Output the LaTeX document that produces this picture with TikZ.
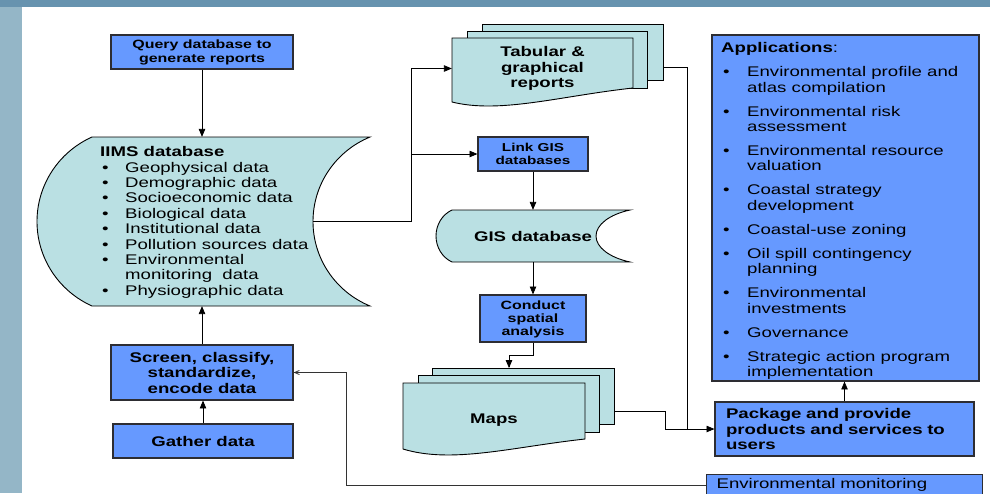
\documentclass[tikz,border=0pt]{standalone}
\usepackage{fontspec}
\setmainfont[FakeStretch=1.33]{Liberation Sans}
\usetikzlibrary{arrows,positioning,calc}

\definecolor{procblue}{RGB}{102,153,255}
\definecolor{datacyan}{RGB}{186,224,227}
\definecolor{slidegray}{RGB}{148,182,199}
\definecolor{slidetop}{RGB}{103,147,175}
\definecolor{inkgray}{RGB}{45,45,50}

\newcommand{\bul}[1][25pt]{\makebox[#1][l]{\hspace{2pt}\textbullet}}

\tikzset{
  procbox/.style={draw=inkgray,line width=1.2pt,fill=procblue,inner sep=0pt,
    align=center,font=\bfseries\fontsize{14}{15.5}\selectfont},
  datashape/.style={draw=black,line width=0.9pt,fill=datacyan},
  datatext/.style={inner sep=0pt,align=center,font=\bfseries\fontsize{14}{15.5}\selectfont},
  listtext/.style={inner sep=0pt,anchor=base west,font=\fontsize{14}{15.4}\selectfont},
  flow/.style={draw=black,line width=0.8pt,-triangle 45},
  wire/.style={draw=black,line width=0.8pt},
  backflow/.style={draw=black!80,line width=0.8pt,-angle 45}
}

\begin{document}
\begin{tikzpicture}[x=1pt,y=-1pt]
  % slide background
  \clip (0,0) rectangle (990,493);
  \fill[slidegray] (0,0) rectangle (990,493);
  \fill[slidetop] (0,0) rectangle (990,7);
  \fill[white] (22,7) rectangle (990,493);

  % IIMS database (stored data shape)
  \filldraw[datashape] (92,137) -- (370,137) .. controls (336,151) and (313,184) .. (313,221.5)
    .. controls (313,259) and (336,292) .. (370,306) -- (92,306)
    .. controls (58.6,291) and (37,258) .. (37,221.5) .. controls (37,185) and (58.6,152) .. (92,137) -- cycle;
  \node[minimum width=278,minimum height=169,inner sep=0pt] (iims) at (231,221.5) {};
  \coordinate (iimsR) at (313,221.5);
  \node[listtext] (iimslist) at (100,156.7) {\begin{tabular}[t]{@{}l@{}l@{}}
    \multicolumn{2}{@{}l@{}}{\textbf{IIMS database}}\\
    \bul & Geophysical data\\
    \bul & Demographic data\\
    \bul & Socioeconomic data\\
    \bul & Biological data\\
    \bul & Institutional data\\
    \bul & Pollution sources data\\
    \bul & Environmental\\
        & monitoring~ data\\
    \bul & Physiographic data
  \end{tabular}};

  % process boxes on the left
  \node[procbox,minimum width=182,minimum height=34,font=\bfseries\fontsize{12}{14}\selectfont] (query) at (202,52) {Query database to\\generate reports};
  \node[procbox,minimum width=182,minimum height=55] (screen) at (202,372.5) {Screen, classify,\\standardize,\\encode data};
  \node[procbox,minimum width=180,minimum height=34] (gather) at (203,441) {Gather data};

  % tabular and graphical reports (document stack)
  \filldraw[datashape] (482,24) rectangle (663,80);
  \filldraw[datashape] (467,31) rectangle (647,88);
  \filldraw[datashape] (452,38) -- (633,38) -- (633,88) .. controls (560,96) and (500,114) .. (452,102) -- cycle;
  \node[datatext,minimum width=181,minimum height=62] (tab) at (542.5,68.5) {Tabular \&\\graphical\\reports};
  \coordinate (tabR) at (663,67);

  % GIS branch
  \node[procbox,minimum width=110,minimum height=34,font=\bfseries\fontsize{11.5}{12.5}\selectfont] (link) at (533,154) {Link GIS\\databases};
  \filldraw[datashape] (452,210) -- (630,210) .. controls (609.6,214.4) and (596,224.6) .. (596,236)
    .. controls (596,247.4) and (609.6,257.6) .. (630,262) -- (452,262)
    .. controls (442.4,257.6) and (436,247.4) .. (436,236) .. controls (436,224.6) and (442.4,214.4) .. (452,210) -- cycle;
  \node[datatext,minimum width=160,minimum height=52] (gis) at (533,236) {GIS database};
  \node[procbox,minimum width=106,minimum height=47,font=\bfseries\fontsize{12}{13.3}\selectfont,text depth=1pt] (conduct) at (533,318.5) {Conduct\\spatial\\analysis};

  % maps (document stack)
  \filldraw[datashape] (432,368) rectangle (614,424);
  \filldraw[datashape] (418,375) rectangle (599,432);
  \filldraw[datashape] (403,383) -- (585,383) -- (585,439) .. controls (512,447) and (452,464) .. (403,449) -- cycle;
  \node[datatext,minimum width=182,minimum height=66] (maps) at (494,420) {Maps};
  \coordinate (mapsT) at (509,368);
  \coordinate (mapsR) at (614,411);

  % right column
  \node[procbox,minimum width=267,minimum height=346] (apps) at (845.5,208) {};
  \node[listtext] (applist) at (721,52.3) {\begin{tabular}[t]{@{}l@{}l@{}}
    \multicolumn{2}{@{}l@{}}{\textbf{Applications}:}\\[9pt]
    \bul[26pt] & Environmental profile and\\
        & atlas compilation\\[8.6pt]
    \bul[26pt] & Environmental risk\\
        & assessment\\[8.6pt]
    \bul[26pt] & Environmental resource\\
        & valuation\\[8.6pt]
    \bul[26pt] & Coastal strategy\\
        & development\\[8.6pt]
    \bul[26pt] & Coastal-use zoning\\[8.6pt]
    \bul[26pt] & Oil spill contingency\\
        & planning\\[8.6pt]
    \bul[26pt] & Environmental\\
        & investments\\[8.6pt]
    \bul[26pt] & Governance\\[8.6pt]
    \bul[26pt] & Strategic action program\\
        & implementation
  \end{tabular}};
  \node[procbox,minimum height=54,text width=237,inner xsep=11pt,align=left] (package) at (844.5,429) {Package and provide\\products and services to\\users};
  \node[procbox,font=\fontsize{14}{15.5}\selectfont,anchor=north west,text width=256,inner xsep=10pt,inner ysep=3.5pt,
    text height=10pt,text depth=4pt,align=left] (envmon) at (706,474) {Environmental monitoring};

  % connectors
  \draw[flow] (query.south) -- (query.south |- iims.north);
  \draw[flow] (screen.north) -- (screen.north |- iims.south);
  \draw[flow] (gather.north) -- (gather.north |- screen.south);
  \draw[backflow] (envmon.west) -| ($(screen.east)+(53,0)$) -- (screen.east);
  \draw[flow] (iimsR) -- ++(98,0) |- (tab.west);
  \draw[flow] (iimsR) -- ++(98,0) |- (link.west);
  \draw[flow] (link.south) -- (gis.north);
  \draw[flow] (gis.south) -- (conduct.north);
  \draw[flow] (conduct.south) -- ++(0,13) -| (mapsT);
  \draw[wire] (tabR) -| ($(package.west)+(-27,0)$);
  \draw[flow] (mapsR) -- ++(51,0) |- (package.west);
  \draw[flow] (package.north) -- (package.north |- apps.south);
\end{tikzpicture}
\end{document}
